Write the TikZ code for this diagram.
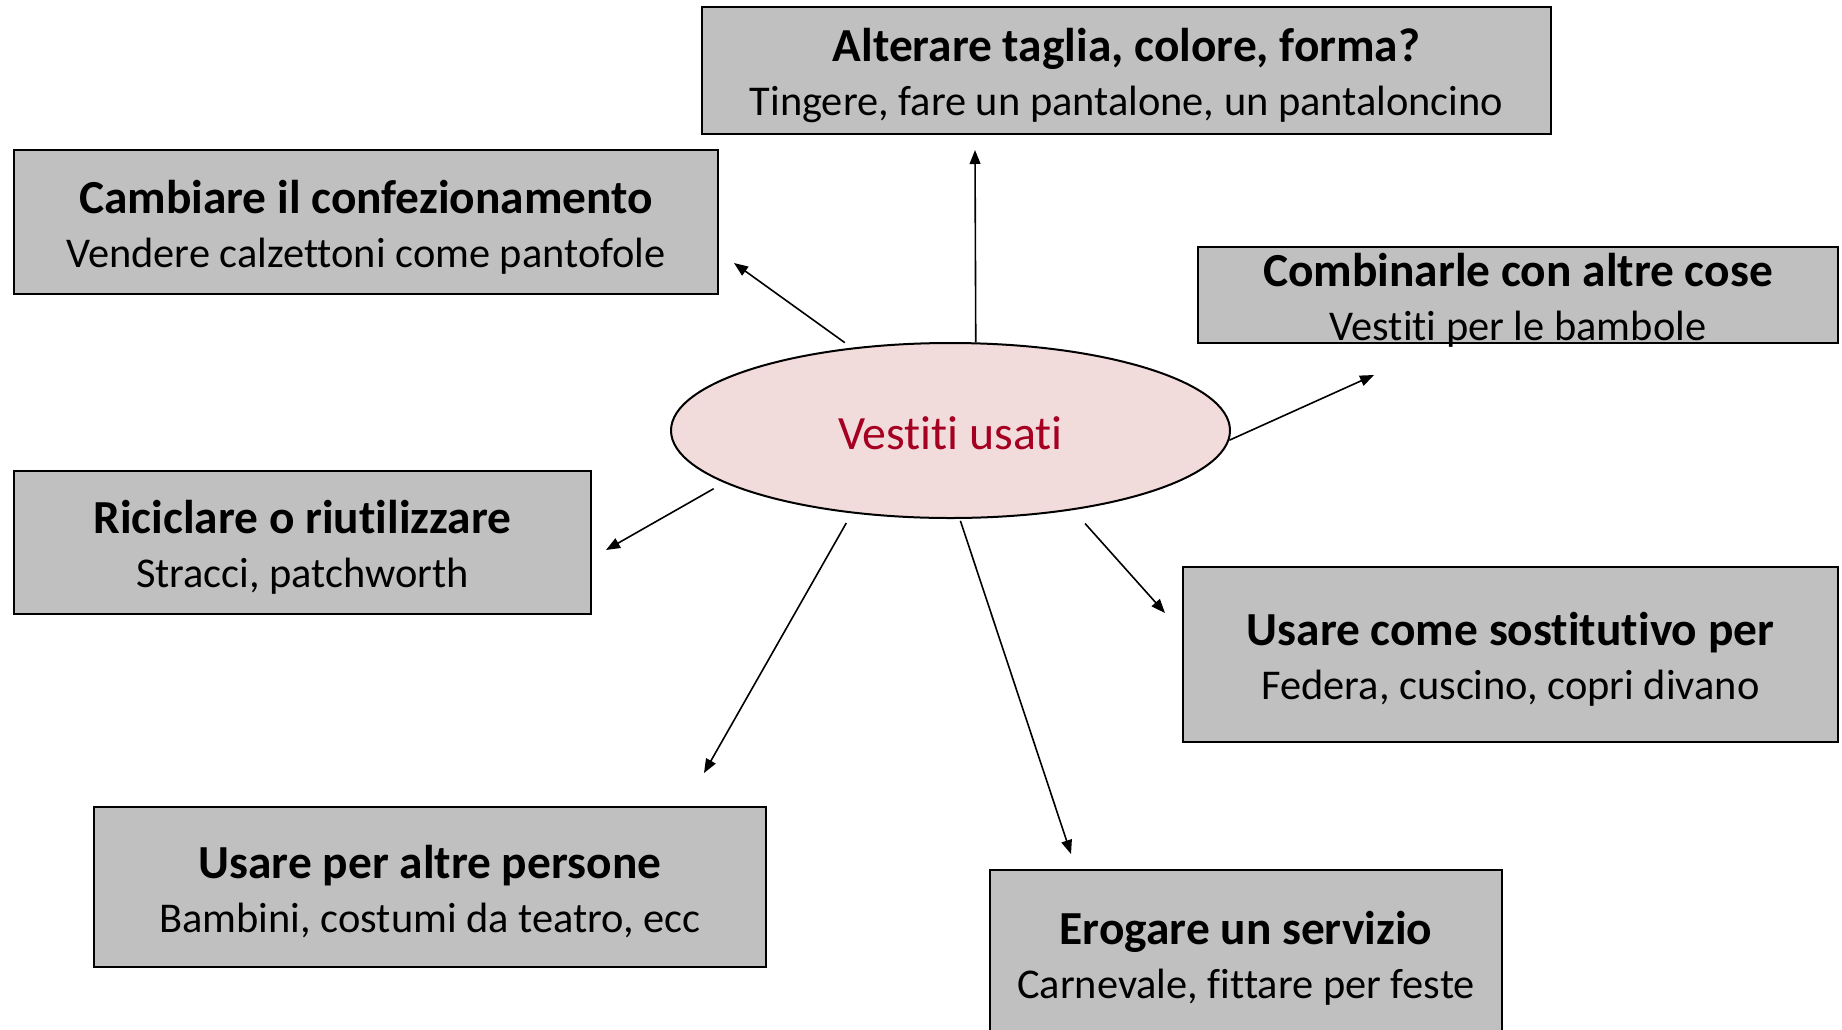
\documentclass[tikz,border=0pt]{standalone}
\usepackage{fontspec}
\setmainfont{Carlito}[Ligatures={NoCommon}]
\usetikzlibrary{shapes.geometric,arrows.meta}
\definecolor{boxgray}{RGB}{192,192,192}
\definecolor{ellfill}{RGB}{242,220,219}
\definecolor{ellred}{RGB}{165,0,33}
\newcommand\boxtitle[1]{{\fontsize{23.7}{27}\selectfont\bfseries #1}}
\begin{document}
\begin{tikzpicture}[x=0.5pt,y=-0.5pt,
  box/.style={draw=black, line width=1pt, fill=boxgray, inner sep=0pt, rectangle},
  lbl/.style={align=center, inner sep=0pt, font=\fontsize{21.2}{27}\selectfont, yshift=-2.4pt},
  arr/.style={line width=0.8pt, -{Triangle[length=7pt,width=5.4pt]}}
]
\useasboundingbox (0,0) rectangle (1842,1029);
\clip (0,0) rectangle (1842,1029);
\fill[white] (0,0) rectangle (1842,1029);

% boxes
\node[box, minimum width=424.5pt, minimum height=63.5pt] (alt) at (1126.5,70.5) {};
\node[box, minimum width=352pt, minimum height=72pt] (cam) at (366,222) {};
\node[box, minimum width=320pt, minimum height=48pt] (com) at (1518,295) {};
\node[box, minimum width=288.5pt, minimum height=71.5pt] (ric) at (302.5,542.5) {};
\node[box, minimum width=327.5pt, minimum height=87.5pt] (sos) at (1510.5,654.5) {};
\node[box, minimum width=336pt, minimum height=80pt] (per) at (430,887) {};
\node[box, minimum width=256pt, minimum height=83pt] (ero) at (1246,953) {};

% texts
\node[lbl] (altT) at (alt) {\boxtitle{Alterare taglia, colore, forma?}\\Tingere, fare un pantalone, un pantaloncino};
\node[lbl] (camT) at (cam) {\boxtitle{Cambiare il confezionamento}\\Vendere calzettoni come pantofole};
\node[lbl] (comT) at (com) {\boxtitle{Combinarle con altre cose}\\Vestiti per le bambole};
\node[lbl] (ricT) at (ric) {\boxtitle{Riciclare o riutilizzare}\\Stracci, patchworth};
\node[lbl] (sosT) at (sos) {\boxtitle{Usare come sostitutivo per}\\Federa, cuscino, copri divano};
\node[lbl] (perT) at (per) {\boxtitle{Usare per altre persone}\\Bambini, costumi da teatro, ecc};
\node[lbl] (eroT) at (ero) {\boxtitle{Erogare un servizio}\\Carnevale, fittare per feste};

% centre
\node[ellipse, draw=black, line width=1pt, fill=ellfill, minimum width=279.5pt, minimum height=87.5pt,
      inner sep=0pt] (ell) at (950.5,430.5) {};
\node[text=ellred, inner sep=0pt, font=\fontsize{23.9}{28}\selectfont, yshift=-1.2pt] (ellT) at (ell) {Vestiti usati};

% arrow ends
\coordinate (e1) at (975,150);
\coordinate (e2) at (734,263);
\coordinate (e3) at (1374,375);
\coordinate (e4) at (606,550);
\coordinate (e5) at (1165,613);
\coordinate (e6) at (704,773);
\coordinate (e7) at (1071,854);

\draw[arr] (ell.74.4) -- (e1);
\draw[arr, shorten <=4.3pt] (ell.140.1) -- (e2);
\draw[arr] (ell.358.5) -- (e3);
\draw[arr, shorten <=6pt] (ell.193.7) -- (e4);
\draw[arr, shorten <=9pt] (ell.327) -- (e5);
\draw[arr, shorten <=5.6pt] (ell.220.6) -- (e6);
\draw[arr, shorten <=1pt] (ell.276.1) -- (e7);
\end{tikzpicture}
\end{document}
